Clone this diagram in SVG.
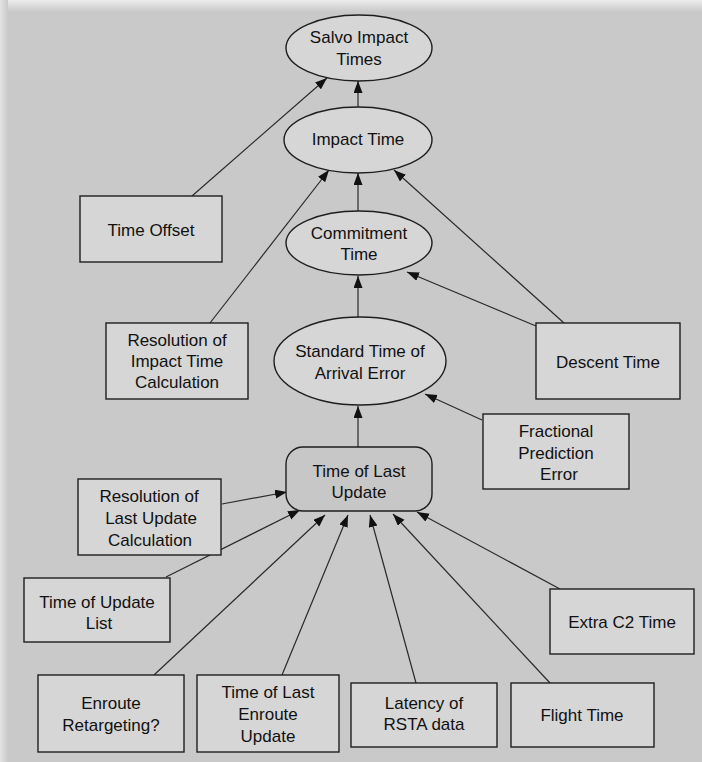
<svg xmlns="http://www.w3.org/2000/svg" width="702" height="762" viewBox="0 0 702 762">
<defs>
<marker id="ah" markerWidth="13" markerHeight="10" refX="12" refY="4.5" orient="auto" markerUnits="userSpaceOnUse">
<path d="M0,0 L12,4.5 L0,9 z" fill="#111"/>
</marker>
<linearGradient id="topband" x1="0" y1="0" x2="0" y2="1">
<stop offset="0" stop-color="#ececec"/>
<stop offset="1" stop-color="#c9c9c9"/>
</linearGradient>
<linearGradient id="leftband" x1="0" y1="0" x2="1" y2="0">
<stop offset="0" stop-color="#e4e4e4"/>
<stop offset="1" stop-color="#c9c9c9"/>
</linearGradient>
</defs>
<style>
.node{fill:#d6d6d6;stroke:#1e1e1e;stroke-width:1.4}
.hub{fill:#c7c7c7;stroke:#1e1e1e;stroke-width:1.4}
.edge{stroke:#2a2a2a;stroke-width:1.2;fill:none;marker-end:url(#ah)}
text{font-family:"Liberation Sans",Arial,sans-serif;font-size:17px;fill:#111;text-anchor:middle}
</style>
<rect x="0" y="0" width="702" height="762" fill="#c9c9c9"/>
<rect x="0" y="0" width="702" height="12" fill="url(#topband)"/>
<rect x="0" y="0" width="8" height="762" fill="url(#leftband)"/>

<g id="connectors">
<line class="edge" x1="358" y1="107" x2="358" y2="81"/>
<line class="edge" x1="192" y1="196" x2="327" y2="78"/>
<line class="edge" x1="358" y1="212" x2="358" y2="173"/>
<line class="edge" x1="210" y1="323" x2="329" y2="170"/>
<line class="edge" x1="564" y1="323" x2="394" y2="170"/>
<line class="edge" x1="358" y1="317" x2="358" y2="276"/>
<line class="edge" x1="536" y1="326" x2="407" y2="272"/>
<line class="edge" x1="358" y1="447" x2="358" y2="406"/>
<line class="edge" x1="482" y1="420" x2="425" y2="394"/>
<line class="edge" x1="222" y1="504" x2="287" y2="492"/>
<line class="edge" x1="166" y1="577" x2="300" y2="510"/>
<line class="edge" x1="154" y1="675" x2="325" y2="515"/>
<line class="edge" x1="282" y1="675" x2="348" y2="515"/>
<line class="edge" x1="416" y1="683" x2="370" y2="515"/>
<line class="edge" x1="550" y1="683" x2="393" y2="514"/>
<line class="edge" x1="560" y1="589" x2="417" y2="512"/>
</g>

<g id="salvo">
<ellipse class="node" cx="359" cy="48" rx="73" ry="33"/>
<text x="359" y="43">Salvo Impact</text>
<text x="359" y="65">Times</text>
</g>
<g id="impact">
<ellipse class="node" cx="358" cy="140" rx="74" ry="33"/>
<text x="358" y="145">Impact Time</text>
</g>
<g id="timeoffset">
<rect class="node" x="80" y="196" width="142" height="66"/>
<text x="151" y="236">Time Offset</text>
</g>
<g id="commitment">
<ellipse class="node" cx="359" cy="243" rx="73" ry="32"/>
<text x="359" y="239">Commitment</text>
<text x="359" y="260">Time</text>
</g>
<g id="resimpact">
<rect class="node" x="106" y="323" width="142" height="76"/>
<text x="177" y="346">Resolution of</text>
<text x="177" y="367">Impact Time</text>
<text x="177" y="388">Calculation</text>
</g>
<g id="stoae">
<ellipse class="node" cx="360" cy="361" rx="86" ry="44"/>
<text x="360" y="357">Standard Time of</text>
<text x="360" y="379">Arrival Error</text>
</g>
<g id="descent">
<rect class="node" x="536" y="323" width="144" height="76"/>
<text x="608" y="368">Descent Time</text>
</g>
<g id="fpe">
<rect class="node" x="483" y="414" width="146" height="75"/>
<text x="556" y="437">Fractional</text>
<text x="556" y="459">Prediction</text>
<text x="559" y="480">Error</text>
</g>
<g id="tlu">
<rect class="hub" x="286" y="447" width="146" height="64" rx="17" ry="17"/>
<text x="359" y="477">Time of Last</text>
<text x="359" y="498">Update</text>
</g>
<g id="reslast">
<rect class="node" x="78" y="479" width="143" height="76"/>
<text x="149" y="502">Resolution of</text>
<text x="151" y="524">Last Update</text>
<text x="150" y="546">Calculation</text>
</g>
<g id="updatelist">
<rect class="node" x="24" y="578" width="146" height="64"/>
<text x="97" y="608">Time of Update</text>
<text x="99" y="629">List</text>
</g>
<g id="extrac2">
<rect class="node" x="550" y="589" width="144" height="65"/>
<text x="622" y="628">Extra C2 Time</text>
</g>
<g id="enroute">
<rect class="node" x="38" y="675" width="146" height="77"/>
<text x="111" y="709">Enroute</text>
<text x="111" y="731">Retargeting?</text>
</g>
<g id="lastenroute">
<rect class="node" x="197" y="675" width="142" height="77"/>
<text x="268" y="698">Time of Last</text>
<text x="268" y="720">Enroute</text>
<text x="268" y="742">Update</text>
</g>
<g id="latency">
<rect class="node" x="351" y="683" width="146" height="64"/>
<text x="424" y="709">Latency of</text>
<text x="424" y="730">RSTA data</text>
</g>
<g id="flight">
<rect class="node" x="511" y="683" width="143" height="64"/>
<text x="582" y="721">Flight Time</text>
</g>
</svg>
